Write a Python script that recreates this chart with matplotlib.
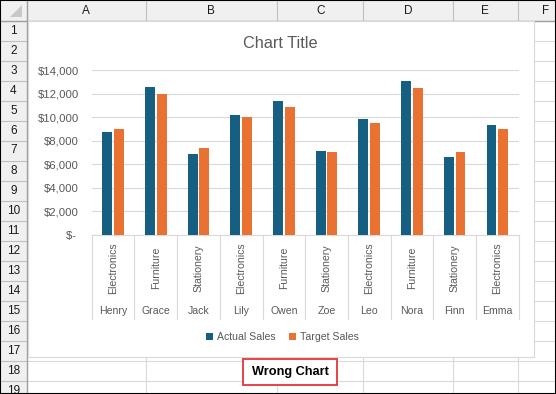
import matplotlib as mpl
mpl.use('Agg')
import matplotlib.pyplot as plt
import matplotlib.transforms as mtransforms
from matplotlib.patches import Rectangle, Polygon, Patch
from matplotlib.lines import Line2D
import numpy as np

names = ['Henry', 'Grace', 'Jack', 'Lily', 'Owen',
         'Zoe', 'Leo', 'Nora', 'Finn', 'Emma']
categories = ['Electronics', 'Furniture', 'Stationery', 'Electronics',
              'Furniture', 'Stationery', 'Electronics', 'Furniture',
              'Stationery', 'Electronics']
actual_sales = [8700, 12550, 6900, 10150, 11350, 7150, 9800, 13050, 6650, 9300]
target_sales = [9000, 12000, 7400, 10000, 10900, 7000, 9500, 12500, 7000, 9000]
y_ticks = [0, 2000, 4000, 6000, 8000, 10000, 12000, 14000]
col_letters = ['A', 'B', 'C', 'D', 'E', 'F']
n_rows = 19

W, H = 556, 394
BLUE = '#156082'
ORANGE = '#E97132'
GREY_TXT = '#595959'
FONT = 'Liberation Sans'


def fx(x):
    return x / W


def fy(y):
    return 1 - y / H


def money(v):
    return '$- ' if v == 0 else '${:,.0f}'.format(v)


def main():
    mpl.rcParams['font.family'] = FONT
    fig = plt.figure(figsize=(W / 100, H / 100), dpi=100)

    # spreadsheet background
    col_edges = [26.7, 145.7, 277, 363.3, 452.7, 517.7, 580]
    hdr_h = 20.5
    row_h = 20.0
    fig.add_artist(Rectangle((0, fy(hdr_h)), 1, 1, transform=fig.transFigure,
                             facecolor='#f0f0f0', edgecolor='none', zorder=-5))
    fig.add_artist(Rectangle((0, 0), fx(col_edges[0]), 1, transform=fig.transFigure,
                             facecolor='#f0f0f0', edgecolor='none', zorder=-5))
    fig.add_artist(Polygon([(fx(22), fy(5)), (fx(22), fy(17)), (fx(10), fy(17))],
                           closed=True, transform=fig.transFigure,
                           facecolor='#c8c8c8', edgecolor='none', zorder=-4))
    for x in col_edges[1:]:
        fig.add_artist(Line2D([fx(x), fx(x)], [fy(0), fy(hdr_h)], transform=fig.transFigure,
                              color='#c0c0c0', lw=0.8, zorder=-4))
        fig.add_artist(Line2D([fx(x), fx(x)], [fy(hdr_h), 0], transform=fig.transFigure,
                              color='#dadada', lw=0.8, zorder=-4))
    for i in range(n_rows + 1):
        y = hdr_h + row_h * (i + 1)
        fig.add_artist(Line2D([0, fx(col_edges[0])], [fy(y), fy(y)], transform=fig.transFigure,
                              color='#c0c0c0', lw=0.8, zorder=-4))
        fig.add_artist(Line2D([fx(col_edges[0]), 1], [fy(y), fy(y)], transform=fig.transFigure,
                              color='#dadada', lw=0.8, zorder=-4))
    fig.add_artist(Line2D([0, 1], [fy(hdr_h), fy(hdr_h)], transform=fig.transFigure,
                          color='#9e9e9e', lw=1.0, zorder=-3))
    fig.add_artist(Line2D([fx(col_edges[0]), fx(col_edges[0])], [1, 0], transform=fig.transFigure,
                          color='#9e9e9e', lw=1.0, zorder=-3))
    for i, lab in enumerate(col_letters):
        xc = (col_edges[i] + col_edges[i + 1]) / 2 if i < 5 else 546
        fig.text(fx(xc), fy(11), lab, ha='center', va='center', fontsize=8.5,
                 color='#1a1a1a')
    for i in range(n_rows):
        yc = hdr_h + row_h * (i + 0.5)
        fig.text(fx(13.3), fy(yc), str(i + 1), ha='center', va='center',
                 fontsize=8.5, color='#1a1a1a')

    # chart area
    fig.add_artist(Rectangle((fx(28.3), fy(357.3)), fx(533.7 - 28.3), (357.3 - 21) / H,
                             transform=fig.transFigure, facecolor='white',
                             edgecolor='#d9d9d9', lw=0.8, zorder=-2))

    ax = fig.add_axes([fx(91.7), fy(235), fx(518.7 - 91.7), (235 - 70) / H])
    ax.patch.set_alpha(0)
    x = np.arange(len(names))
    bw = 0.234
    ax.bar(x - 0.137, actual_sales, bw, color=BLUE, label='Actual Sales', zorder=3)
    ax.bar(x + 0.137, target_sales, bw, color=ORANGE, label='Target Sales', zorder=3)
    ax.set_xlim(-0.5, len(names) - 0.5)
    ax.set_ylim(0, 14000)
    ax.set_yticks(y_ticks)
    ax.set_yticklabels([money(v) for v in y_ticks])
    ax.tick_params(axis='y', length=0, pad=9, labelsize=8.2, labelcolor=GREY_TXT)
    ax.set_xticks([])
    ax.grid(axis='y', color='#d9d9d9', lw=0.8, zorder=0)
    for s in ['top', 'right', 'left']:
        ax.spines[s].set_visible(False)
    ax.spines['bottom'].set_color('#d9d9d9')
    ax.spines['bottom'].set_linewidth(0.8)

    # multi-level category axis
    tr = mtransforms.blended_transform_factory(ax.transData, fig.transFigure)
    for b in np.arange(-0.5, len(names), 1.0):
        fig.add_artist(Line2D([b, b], [fy(235), fy(319)], transform=tr,
                              color='#d9d9d9', lw=0.8))
    for i in range(len(names)):
        fig.text(i, fy(268), categories[i], transform=tr, rotation=90,
                 ha='center', va='center', fontsize=7.6, color=GREY_TXT)
        fig.text(i, fy(311), names[i], transform=tr,
                 ha='center', va='center', fontsize=7.6, color=GREY_TXT)

    fig.text(fx(280.5), fy(44), 'Chart Title', ha='center', va='center',
             fontsize=11.7, color=GREY_TXT)

    handles = [Patch(facecolor=BLUE, label='Actual Sales'),
               Patch(facecolor=ORANGE, label='Target Sales')]
    fig.legend(handles=handles, loc='center', bbox_to_anchor=(fx(282.5), fy(337)),
               ncol=2, frameon=False, fontsize=7.6, labelcolor=GREY_TXT,
               handlelength=0.6, handleheight=0.6, handletextpad=0.4,
               columnspacing=1.3, borderpad=0)

    # label under the chart
    fig.add_artist(Rectangle((fx(243.3), fy(385)), fx(337.3 - 243.3), (385 - 359.3) / H,
                             transform=fig.transFigure, facecolor='white',
                             edgecolor='#e5343b', lw=1.3, zorder=2))
    fig.text(fx(290.5), fy(372.5), 'Wrong Chart', ha='center', va='center',
             fontsize=9.2, fontweight='bold', color='black', zorder=4)

    fig.add_artist(Rectangle((0, 0), 1, 1, transform=fig.transFigure,
                             facecolor='none', edgecolor='black', lw=1.5, zorder=10))
    fig.savefig('out.png', dpi=100)
    plt.close(fig)


if __name__ == '__main__':
    main()
